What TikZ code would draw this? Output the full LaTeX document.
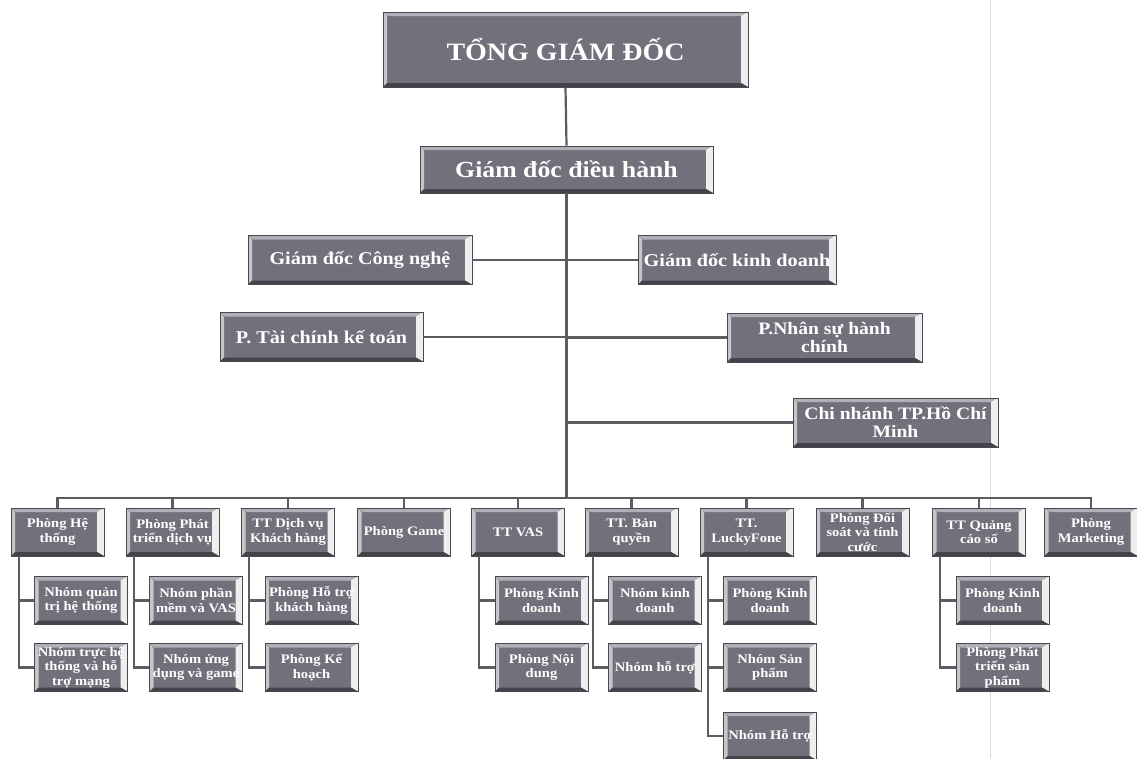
\documentclass[tikz,border=0pt]{standalone}
\usepackage{fontspec}
\setmainfont[FakeStretch=1.12]{Liberation Serif}
\definecolor{boxgray}{RGB}{112,113,122}
\definecolor{boxedge}{RGB}{72,72,80}
\definecolor{linegray}{RGB}{92,92,98}
\tikzset{
  bev/.style={draw=boxedge, line width=0.8pt, fill=boxgray, text=white, align=center, inner sep=1pt,
    path picture={
      \fill[boxgray!55!white] (path picture bounding box.north west) -- (path picture bounding box.north east)
        -- ([shift={(-5pt,-4pt)}]path picture bounding box.north east) -- ([shift={(5pt,-4pt)}]path picture bounding box.north west) -- cycle;
      \fill[white!88!boxgray] (path picture bounding box.north east) -- (path picture bounding box.south east)
        -- ([shift={(-7pt,4pt)}]path picture bounding box.south east) -- ([shift={(-7pt,-4pt)}]path picture bounding box.north east) -- cycle;
      \fill[boxgray!40!white] (path picture bounding box.north west) -- (path picture bounding box.south west)
        -- ([shift={(4pt,4pt)}]path picture bounding box.south west) -- ([shift={(4pt,-4pt)}]path picture bounding box.north west) -- cycle;
      \fill[boxgray!60!black] (path picture bounding box.south west) -- (path picture bounding box.south east)
        -- ([shift={(-7pt,4pt)}]path picture bounding box.south east) -- ([shift={(4pt,4pt)}]path picture bounding box.south west) -- cycle;
    }},
  topbox/.style={bev, minimum width=365pt, minimum height=75pt, font=\bfseries\fontsize{25}{28}\selectfont},
  midbox/.style={bev, minimum height=49pt, font=\bfseries\fontsize{18}{20}\selectfont},
  twobox/.style={bev, minimum height=49pt, font=\bfseries\fontsize{17.5}{18}\selectfont},
  smbox/.style={bev, minimum width=93pt, minimum height=48pt, font=\bfseries\fontsize{13}{14.5}\selectfont},
  conn/.style={draw=linegray, line width=2.2pt},
}
\begin{document}
\begin{tikzpicture}[x=1pt, y={(0pt,-1pt)}]
\useasboundingbox[fill=white] (0,0) rectangle (1137,758);
% faint scan line
\draw[gray!30, line width=0.8pt] (990,0) -- (990,758);

% top levels
\node[topbox] (top) at (565.5,49.5) {TỔNG GIÁM ĐỐC};
\node[bev, minimum width=293pt, minimum height=47pt, font=\bfseries\fontsize{23}{24}\selectfont] (gddh) at (566.5,169.5) {Giám đốc điều hành};
\node[midbox, minimum width=224pt] (gdcn) at (360,260) {Giám đốc Công nghệ};
\node[midbox, minimum width=198pt] (gdkd) at (737,260) {Giám đốc kinh doanh};
\node[midbox, minimum width=203pt] (tckt) at (321.5,337) {P. Tài chính kế toán};
\node[twobox, minimum width=195pt] (nshc) at (824.5,337.5) {P.Nhân sự hành\\chính};
\node[twobox, minimum width=205pt] (cn) at (895.5,422.5) {Chi nhánh TP.Hồ Chí\\Minh};

% bottom parents
\node[smbox] (b1) at (57.5,532) {Phòng Hệ\\thống};
\node[smbox] (b2) at (172.5,532) {Phòng Phát\\triển dịch vụ};
\node[smbox] (b3) at (288,532) {TT Dịch vụ\\Khách hàng};
\node[smbox] (b4) at (404,532) {Phòng Game};
\node[smbox] (b5) at (518,532) {TT VAS};
\node[smbox] (b6) at (631.5,532) {TT. Bản\\quyền};
\node[smbox] (b7) at (746.5,532) {TT.\\LuckyFone};
\node[smbox] (b8) at (862.5,532) {Phòng Đối\\soát và tính\\cước};
\node[smbox] (b9) at (979,532) {TT Quảng\\cáo số};
\node[smbox] (b10) at (1091,532) {Phòng\\Marketing};

% children
\node[smbox] (c11) at (81,600.5) {Nhóm quản\\trị hệ thống};
\node[smbox] (c12) at (81,667.5) {Nhóm trực hệ\\thống và hỗ\\trợ mạng};
\node[smbox] (c21) at (196,600.5) {Nhóm phần\\mềm và VAS};
\node[smbox] (c22) at (196,667.5) {Nhóm ứng\\dụng và game};
\node[smbox] (c31) at (311.5,600.5) {Phòng Hỗ trợ\\khách hàng};
\node[smbox] (c32) at (311.5,667.5) {Phòng Kế\\hoạch};
\node[smbox] (c51) at (541.5,600.5) {Phòng Kinh\\doanh};
\node[smbox] (c52) at (541.5,667.5) {Phòng Nội\\dung};
\node[smbox] (c61) at (655,600.5) {Nhóm kinh\\doanh};
\node[smbox] (c62) at (655,667.5) {Nhóm hỗ trợ};
\node[smbox] (c71) at (770,600.5) {Phòng Kinh\\doanh};
\node[smbox] (c72) at (770,667.5) {Nhóm Sản\\phẩm};
\node[smbox] (c73) at (770,736) {Nhóm Hỗ trợ};
\node[smbox] (c91) at (1002.5,600.5) {Phòng Kinh\\doanh};
\node[smbox] (c92) at (1002.5,667.5) {Phòng Phát\\triển sản\\phẩm};

% trunk and branches
\coordinate (bus) at (566,498);
\draw[conn] (top.south) -- (gddh.north);
\draw[conn] (gddh.south) -- (gddh.south |- bus);
\draw[conn] (gdcn.east) -- (gdcn.east -| gddh.south);
\draw[conn] (gdkd.west) -- (gdkd.west -| gddh.south);
\draw[conn] (tckt.east) -- (tckt.east -| gddh.south);
\draw[conn] (nshc.west) -- (nshc.west -| gddh.south);
\draw[conn] (cn.west) -- (cn.west -| gddh.south);

% bus
\draw[conn] (b1.north) -- (b1.north |- bus) -- (b10.north |- bus) -- (b10.north);
\foreach \n in {b2,b3,b4,b5,b6,b7,b8,b9}{
  \draw[conn] (\n.north) -- (\n.north |- bus);
}

% child connectors
\foreach \p/\c in {b1/c11,b1/c12,b2/c21,b2/c22,b3/c31,b3/c32,b5/c51,b5/c52,b6/c61,b6/c62,b7/c71,b7/c72,b7/c73,b9/c91,b9/c92}{
  \draw[conn] ([xshift=8pt]\p.south west) |- (\c.west);
}
\end{tikzpicture}
\end{document}
